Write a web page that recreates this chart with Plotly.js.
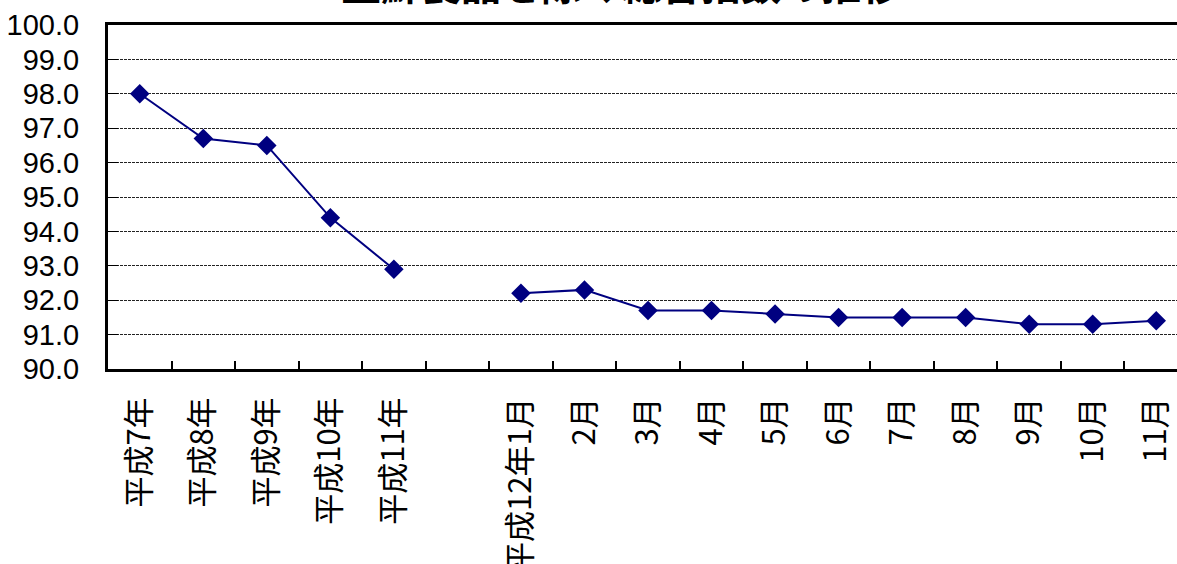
<!DOCTYPE html>
<html>
<head>
<meta charset="utf-8">
<script src="https://cdn.plot.ly/plotly-3.0.1.min.js"></script>
<style>
html, body { margin: 0; padding: 0; overflow: hidden; background: #fff; }
#chart { width: 1188px; height: 564px; }
</style>
</head>
<body>
<div id="chart"></div>
<script>
// Categories (a blank slot separates annual and monthly data)
const categories = ["平成7年", "平成8年", "平成9年", "平成10年", "平成11年", " ",
  "平成12年1月", "2月", "3月", "4月", "5月", "6月", "7月", "8月", "9月", "10月", "11月"];
const indexValues = [98.0, 96.7, 96.5, 94.4, 92.9, null,
  92.2, 92.3, 91.7, 91.7, 91.6, 91.5, 91.5, 91.5, 91.3, 91.3, 91.4];
const yTickValues = [90, 91, 92, 93, 94, 95, 96, 97, 98, 99, 100];
const yTickLabels = ["90.0", "91.0", "92.0", "93.0", "94.0", "95.0", "96.0", "97.0", "98.0", "99.0", "100.0"];
const chartTitle = "生鮮食品を除く総合指数の推移";

const trace = {
  type: "scatter",
  mode: "lines+markers",
  x: categories,
  y: indexValues,
  connectgaps: false,
  line: { color: "#000080", width: 2 },
  marker: { symbol: "diamond", size: 15, color: "#000080" },
  hoverinfo: "x+y"
};

const layout = {
  width: 1188,
  height: 564,
  margin: { l: 108, r: 0, t: 25, b: 195 },
  paper_bgcolor: "#ffffff",
  plot_bgcolor: "#ffffff",
  showlegend: false,
  xaxis: {
    type: "category",
    categoryorder: "array",
    categoryarray: categories,
    range: [-0.5, categories.length - 0.5],
    tickson: "boundaries",
    ticks: "inside",
    ticklen: 8,
    tickwidth: 2,
    tickcolor: "#000",
    tickangle: -90,
    ticklabelstandoff: 13,
    tickfont: { family: "Noto Sans CJK JP", size: 31, color: "#000" },
    showline: true,
    linecolor: "#000",
    linewidth: 3,
    mirror: true,
    showgrid: false,
    zeroline: false,
    fixedrange: true
  },
  yaxis: {
    range: [90, 100],
    tickvals: yTickValues,
    ticktext: yTickLabels,
    ticks: "inside",
    ticklen: 10,
    tickwidth: 1,
    tickcolor: "#000",
    ticklabelstandoff: 20,
    tickfont: { family: "Liberation Sans, Arial, sans-serif", size: 29, color: "#000" },
    showline: true,
    linecolor: "#000",
    linewidth: 3,
    mirror: true,
    showgrid: true,
    gridcolor: "#222",
    gridwidth: 1,
    griddash: "3px,1px",
    zeroline: false,
    fixedrange: true
  },
  annotations: [{
    text: "<b>" + chartTitle + "</b>",
    xref: "paper", yref: "paper",
    x: 0.475, y: 1,
    xanchor: "center", yanchor: "bottom",
    yshift: 11,
    showarrow: false,
    font: { family: "Noto Sans CJK JP", size: 40, color: "#000" }
  }]
};

Plotly.newPlot("chart", [trace], layout, { displayModeBar: false, staticPlot: true });
</script>
</body>
</html>
